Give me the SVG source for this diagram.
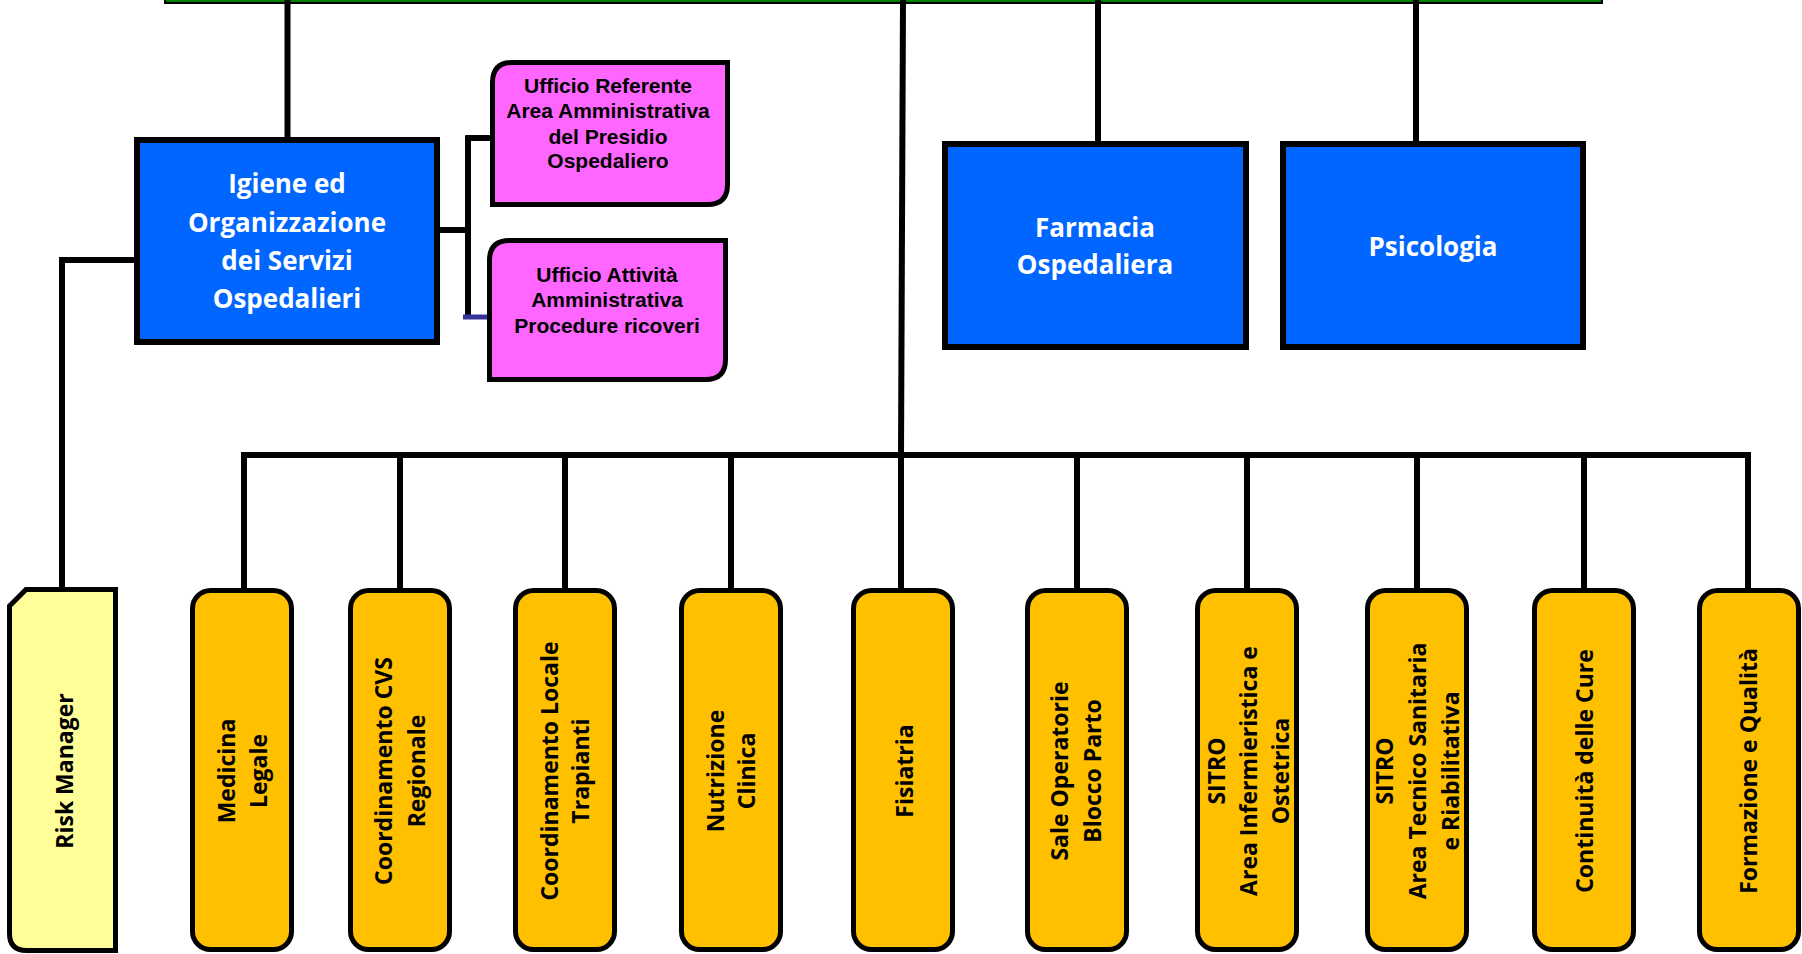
<svg xmlns="http://www.w3.org/2000/svg" width="1802" height="954" viewBox="0 0 1802 954">
<style>
.ln{stroke:#000;stroke-width:6;fill:none}
.blue{fill:#0066FF;stroke:#000;stroke-width:6}
.pink{fill:#FF66FF;stroke:#000;stroke-width:5}
.org{fill:#FFC000;stroke:#000;stroke-width:5}
.ylw{fill:#FFFF99;stroke:#000;stroke-width:5}
.bt{font-family:"Open Sans","DejaVu Sans",sans-serif;font-weight:700;font-size:26px;fill:#fff;text-anchor:middle}
.pt{font-family:"Liberation Sans",Arial,sans-serif;font-weight:700;font-size:21px;fill:#000;text-anchor:middle}
.vt{font-family:"Open Sans","DejaVu Sans",sans-serif;font-weight:700;font-size:23px;fill:#000;text-anchor:middle}
</style>
<rect width="1802" height="954" fill="#fff"/>
<g id="top">
<rect x="165" y="-10" width="1437" height="13" fill="#008000" stroke="#000" stroke-width="2"/>
</g>
<g id="connectors">
<line class="ln" x1="287.5" y1="0" x2="287.5" y2="140"/>
<line class="ln" x1="903" y1="0" x2="901" y2="455"/>
<line class="ln" x1="1098" y1="0" x2="1098" y2="144"/>
<line class="ln" x1="1416" y1="0" x2="1416" y2="144"/>
<path class="ln" d="M62 590 V260 H137" stroke-width="5"/>
<path class="ln" d="M437 230 H468 M468 135.5 V317 M465.5 138 H492"/>
<line x1="463" y1="317" x2="489" y2="317" stroke="#333399" stroke-width="5"/>
<line class="ln" x1="241" y1="455" x2="1751" y2="455"/>
<line class="ln" x1="244" y1="455" x2="244" y2="590"/>
<line class="ln" x1="400" y1="455" x2="400" y2="590"/>
<line class="ln" x1="565" y1="455" x2="565" y2="590"/>
<line class="ln" x1="731" y1="455" x2="731" y2="590"/>
<line class="ln" x1="901" y1="455" x2="901" y2="590"/>
<line class="ln" x1="1077" y1="455" x2="1077" y2="590"/>
<line class="ln" x1="1247" y1="455" x2="1247" y2="590"/>
<line class="ln" x1="1417" y1="455" x2="1417" y2="590"/>
<line class="ln" x1="1584" y1="455" x2="1584" y2="590"/>
<line class="ln" x1="1748" y1="455" x2="1748" y2="590"/>
</g>
<g id="igiene">
<rect class="blue" x="137" y="140" width="300" height="202"/>
<text class="bt" x="287"><tspan x="287" y="193">Igiene ed</tspan><tspan x="287" y="232">Organizzazione</tspan><tspan x="287" y="270">dei Servizi</tspan><tspan x="287" y="308">Ospedalieri</tspan></text>
</g>
<g id="farmacia">
<rect class="blue" x="945" y="144" width="301" height="203"/>
<text class="bt"><tspan x="1095" y="237">Farmacia</tspan><tspan x="1095" y="274">Ospedaliera</tspan></text>
</g>
<g id="psicologia">
<rect class="blue" x="1283" y="144" width="300" height="203"/>
<text class="bt" x="1433" y="256">Psicologia</text>
</g>
<g id="ufficio-referente">
<path class="pink" d="M512.5 62.5 H727.5 V184.5 Q727.5 204.5 707.5 204.5 H492.5 V82.5 Q492.5 62.5 512.5 62.5 Z"/>
<text class="pt"><tspan x="608" y="93">Ufficio Referente</tspan><tspan x="608" y="118">Area Amministrativa</tspan><tspan x="608" y="144">del Presidio</tspan><tspan x="608" y="168">Ospedaliero</tspan></text>
</g>
<g id="ufficio-attivita">
<path class="pink" d="M509.5 240.5 H725.5 V359.5 Q725.5 379.5 705.5 379.5 H489.5 V260.5 Q489.5 240.5 509.5 240.5 Z"/>
<text class="pt"><tspan x="607" y="282">Ufficio Attività</tspan><tspan x="607" y="307">Amministrativa</tspan><tspan x="607" y="333">Procedure ricoveri</tspan></text>
</g>
<g id="risk-manager">
<path class="ylw" d="M26 589.5 H115.5 V950.5 H26.5 Q9.5 950.5 9.5 933.5 V606 Z"/>
<text class="vt" transform="translate(62.5 771) rotate(-90)" x="0" y="10">Risk Manager</text>
</g>
<g id="medicina-legale">
<rect class="org" x="192.5" y="590.5" width="99" height="359" rx="18"/>
<text class="vt" transform="translate(242 771) rotate(-90)"><tspan x="0" y="-7">Medicina</tspan><tspan x="0" y="25">Legale</tspan></text>
</g>
<g id="coordinamento-cvs">
<rect class="org" x="350.5" y="590.5" width="99" height="359" rx="18"/>
<text class="vt" transform="translate(400 771) rotate(-90)"><tspan x="0" y="-8">Coordinamento CVS</tspan><tspan x="0" y="25">Regionale</tspan></text>
</g>
<g id="coordinamento-trapianti">
<rect class="org" x="515.5" y="590.5" width="99" height="359" rx="18"/>
<text class="vt" transform="translate(565 771) rotate(-90)"><tspan x="0" y="-7">Coordinamento Locale</tspan><tspan x="0" y="24">Trapianti</tspan></text>
</g>
<g id="nutrizione-clinica">
<rect class="org" x="681.5" y="590.5" width="99" height="359" rx="18"/>
<text class="vt" transform="translate(731 771) rotate(-90)"><tspan x="0" y="-7">Nutrizione</tspan><tspan x="0" y="24">Clinica</tspan></text>
</g>
<g id="fisiatria">
<rect class="org" x="853.5" y="590.5" width="99" height="359" rx="18"/>
<text class="vt" transform="translate(903 771) rotate(-90)" x="0" y="10">Fisiatria</text>
</g>
<g id="sale-operatorie">
<rect class="org" x="1027.5" y="590.5" width="99" height="359" rx="18"/>
<text class="vt" transform="translate(1077 771) rotate(-90)"><tspan x="0" y="-9">Sale Operatorie</tspan><tspan x="0" y="24">Blocco Parto</tspan></text>
</g>
<g id="sitro-infermieristica">
<rect class="org" x="1197.5" y="590.5" width="99" height="359" rx="18"/>
<text class="vt" transform="translate(1247 771) rotate(-90)"><tspan x="0" y="-22">SITRO</tspan><tspan x="0" y="10">Area Infermieristica e</tspan><tspan x="0" y="42">Ostetrica</tspan></text>
</g>
<g id="sitro-tecnico">
<rect class="org" x="1367.5" y="590.5" width="99" height="359" rx="18"/>
<text class="vt" transform="translate(1417 771) rotate(-90)"><tspan x="0" y="-24">SITRO</tspan><tspan x="0" y="9">Area Tecnico Sanitaria</tspan><tspan x="0" y="42">e Riabilitativa</tspan></text>
</g>
<g id="continuita-cure">
<rect class="org" x="1534.5" y="590.5" width="99" height="359" rx="18"/>
<text class="vt" transform="translate(1584 771) rotate(-90)" x="0" y="9">Continuità delle Cure</text>
</g>
<g id="formazione-qualita">
<rect class="org" x="1699.5" y="590.5" width="99" height="359" rx="18"/>
<text class="vt" transform="translate(1749 771) rotate(-90)" x="0" y="8">Formazione e Qualità</text>
</g>
</svg>
